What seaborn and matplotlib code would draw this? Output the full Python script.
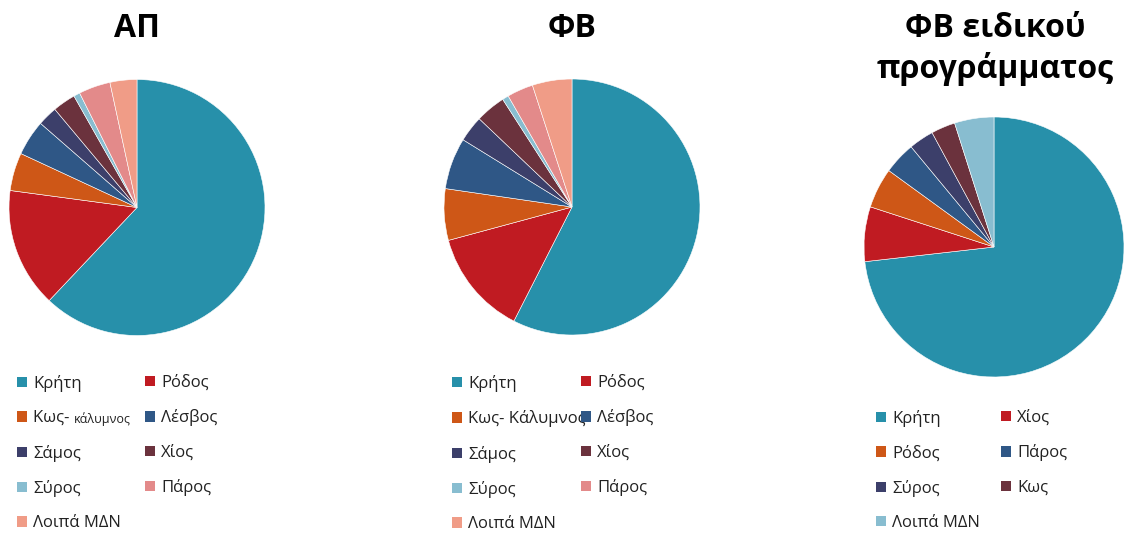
import matplotlib
matplotlib.use("Agg")
import matplotlib.pyplot as plt
from matplotlib.patches import Patch
import seaborn as sns

# ---- data (shares in %) ----
ap_labels = ["Κρήτη", "Ρόδος", "Κως- ", "Λέσβος", "Σάμος", "Χίος", "Σύρος", "Πάρος", "Λοιπά ΜΔΝ"]
ap_values = [62.1, 15.1, 4.8, 4.5, 2.5, 2.9, 0.8, 4.0, 3.4]

fv_labels = ["Κρήτη", "Ρόδος", "Κως- Κάλυμνος", "Λέσβος", "Σάμος", "Χίος", "Σύρος", "Πάρος", "Λοιπά ΜΔΝ"]
fv_values = [57.5, 13.3, 6.5, 6.5, 3.3, 3.8, 0.8, 3.3, 5.0]

sp_labels = ["Κρήτη", "Χίος", "Ρόδος", "Πάρος", "Σύρος", "Κως", "Λοιπά ΜΔΝ"]
sp_values = [73.2, 6.8, 5.0, 4.0, 3.1, 3.0, 4.9]

titles = ["ΑΠ", "ΦΒ", "ΦΒ ειδικού\nπρογράμματος"]

palette9 = ["#2790AA", "#C01B22", "#CE5717", "#2F5786", "#3C3F6A",
            "#6B323D", "#88BDD0", "#E38A8A", "#F09C87"]
palette7 = ["#2790AA", "#C01B22", "#CE5717", "#2F5786", "#3C3F6A",
            "#6B323D", "#88BDD0"]

sns.set_theme(style="white")
plt.rcParams["font.family"] = ["Open Sans", "DejaVu Sans"]

W, H = 1127, 544
fig = plt.figure(figsize=(W / 100, H / 100), dpi=100)


def fx(px):
    return px / W


def fy(py):
    return 1 - py / H


def draw_pie(values, colors, cx, cy, r):
    ax = fig.add_axes([fx(cx - r), fy(cy + r), fx(2 * r), 2 * r / H])
    ax.pie(values, colors=colors, startangle=90, counterclock=False,
           wedgeprops=dict(edgecolor="white", linewidth=0.4))
    ax.set_xlim(-1, 1)
    ax.set_ylim(-1, 1)
    ax.set_aspect("equal")
    ax.axis("off")
    return ax


def draw_legend(labels, colors, x_cols, y_top):
    handles = [Patch(facecolor=c, edgecolor="none") for c in colors]
    texts = []
    for col, x0 in enumerate(x_cols):
        idx = list(range(col, len(labels), 2))
        leg = fig.legend([handles[i] for i in idx], [labels[i] for i in idx],
                         loc="upper left", bbox_to_anchor=(fx(x0), fy(y_top)),
                         frameon=False, fontsize=12, handlelength=0.57,
                         handleheight=0.57, handletextpad=0.4,
                         labelspacing=1.1, borderpad=0, borderaxespad=0)
        for t in leg.get_texts():
            t.set_color("#222222")
        texts.append(leg.get_texts())
    return texts


draw_pie(ap_values, palette9, 137, 207.5, 128)
draw_pie(fv_values, palette9, 572, 207, 128)
draw_pie(sp_values, palette7, 994, 247, 130)

ap_texts = draw_legend(ap_labels, palette9, [17, 145], 375)
draw_legend(fv_labels, palette9, [452, 581], 375)
draw_legend(sp_labels, palette7, [876, 1001], 410)

# smaller second half of the Kos entry in the first legend
kos_text = ap_texts[0][1]
fig.add_artist(plt.Annotation("κάλυμνος", xy=(1, 0.22), xycoords=kos_text,
                              xytext=(0, 0), textcoords="offset points",
                              fontsize=9, color="#222222", va="baseline",
                              ha="left", zorder=20))

# titles
title_kw = dict(ha="center", va="baseline", fontsize=23,
                fontweight="bold", color="black")
fig.text(fx(137), fy(37), titles[0], **title_kw)
fig.text(fx(572), fy(37), titles[1], **title_kw)
line1, line2 = titles[2].split("\n")
fig.text(fx(995), fy(37), line1, **title_kw)
fig.text(fx(995), fy(78), line2, **title_kw)

fig.savefig("out.png", dpi=100, facecolor="white")
